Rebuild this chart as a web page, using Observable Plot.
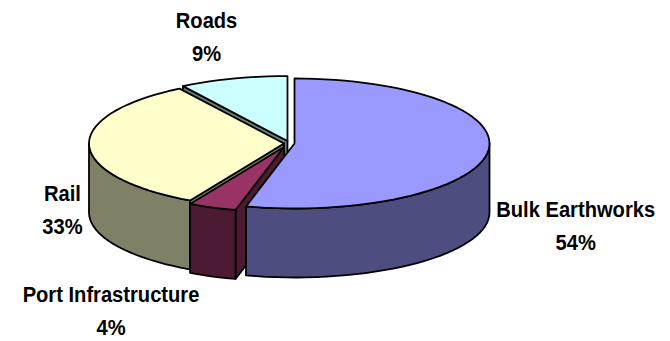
<!DOCTYPE html>
<html>
<head>
<meta charset="utf-8">
<script src="https://cdn.jsdelivr.net/npm/d3@7"></script>
<script src="https://cdn.jsdelivr.net/npm/@observablehq/plot@0.6"></script>
<style>
  html, body { margin: 0; background: #fff; }
  svg { display: block; }
</style>
</head>
<body>
<div id="chart"></div>
<script>
// Share of project cost by work package, clockwise from twelve o'clock
const categories = ["Bulk Earthworks", "Port Infrastructure", "Rail", "Roads"];
const shares = [54, 4, 33, 9];
const topColors = ["#9999ff", "#993366", "#ffffcc", "#ccffff"];
const sideColors = ["#4d4d80", "#4d1a33", "#808066", "#668080"];

// Each wedge is pulled out from the common axis by its own amount (pie radius units)
const explodeX = [0.041, -0.0128, -0.0128, 0.005];
const explodeY = [0, 0.054, 0, -0.038];

// Flattened disc: radii and thickness in pixels, and where its axis sits
const width = 670, height = 341;
const radiusX = 195, radiusY = 65, thickness = 69;
const axisX = 286, axisY = 143;

// Label block centres in pie units, relative to the axis
const labelX = [1.483, -0.90, -1.149, -0.41];
const labelY = [1.215, 2.53, 0.97, -1.69];

// Labels are tall for their width, so the font is condensed a little
const labelSize = 22.5;
const labelSquash = 0.895;

const angles = d3.pie().sort(null).value(d => d)(shares);
const depth = thickness / radiusY;
const rad = d => d * Math.PI / 180;

function arcPoints(from, to) {
  const steps = Math.max(2, Math.ceil((to - from) / rad(3)));
  return d3.range(steps + 1).map(i => from + (to - from) * i / steps);
}

const rows = [];
function addFace(name, color, points) {
  for (const [x, y] of points) rows.push({face: name, color, x, y});
}

// Back wedges first, so nearer ones overlap them
for (const i of [3, 2, 1, 0]) {
  const {startAngle: a0, endAngle: a1} = angles[i];
  const cx = explodeX[i], cy = explodeY[i];
  const rim = t => [cx + Math.sin(t), cy - Math.cos(t)];
  const drop = ([x, y]) => [x, y + depth];
  const apex = [cx, cy];

  // Cut faces turned towards the viewer
  if (Math.sin(a0) < -1e-9) {
    addFace(`${i}-start`, sideColors[i], [apex, rim(a0), drop(rim(a0)), drop(apex)]);
  }
  if (Math.sin(a1) > 1e-9) {
    addFace(`${i}-end`, sideColors[i], [apex, rim(a1), drop(rim(a1)), drop(apex)]);
  }

  // Outer wall: only the front half of the rim shows
  const w0 = Math.max(a0, Math.PI / 2), w1 = Math.min(a1, Math.PI * 3 / 2);
  if (w1 > w0) {
    const edge = arcPoints(w0, w1).map(rim);
    addFace(`${i}-wall`, sideColors[i], [...edge, ...edge.map(drop).reverse()]);
  }

  // Top surface
  addFace(`${i}-top`, topColors[i], [apex, ...arcPoints(a0, a1).map(rim)]);
}

const labels = categories.map((name, i) => ({
  text: `${name}\n${shares[i]}%`,
  x: labelX[i],
  y: labelY[i]
}));

const chart = Plot.plot({
  width,
  height,
  margin: 0,
  x: {axis: null, domain: [-axisX / radiusX, (width - axisX) / radiusX], range: [0, width]},
  y: {axis: null, domain: [-axisY / radiusY, (height - axisY) / radiusY], range: [0, height]},
  marks: [
    Plot.line(rows, {
      x: "x",
      y: "y",
      z: "face",
      fill: "color",
      stroke: "#000",
      strokeWidth: 1.8,
      strokeLinejoin: "round",
      curve: "linear-closed"
    }),
    Plot.text(labels, {
      x: "x",
      y: "y",
      text: "text",
      fontFamily: "'Liberation Sans', sans-serif",
      fontWeight: "bold",
      fontSize: labelSize,
      lineHeight: 33 / labelSize,
      fill: "#000"
    })
  ]
});

// Condense each label about its own anchor
for (const label of chart.querySelectorAll("text")) {
  const placed = label.getAttribute("transform") || "";
  label.setAttribute("transform", `${placed} scale(${labelSquash},1)`);
}

document.getElementById("chart").append(chart);
</script>
</body>
</html>
